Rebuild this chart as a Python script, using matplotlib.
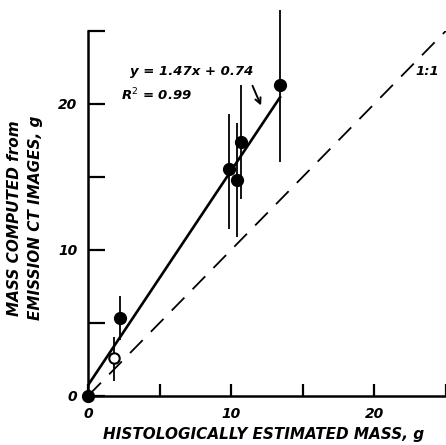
import matplotlib.pyplot as plt

# histologically estimated mass (x) vs mass from emission CT (y), g
x_filled = [0.0, 2.2, 9.8, 10.4, 10.7, 13.4]
y_filled = [0.0, 5.3, 15.5, 14.8, 17.4, 21.3]
err_lo = [0.0, 1.5, 4.1, 3.95, 3.95, 5.3]
err_hi = [0.0, 1.5, 3.8, 3.9, 3.9, 5.1]

x_open = [1.8]
y_open = [2.6]
open_lo = [1.6]
open_hi = [1.4]

slope, intercept = 1.47, 0.74
fit_x = [0.0, 13.4]
one_x = [0.0, 25.0]

fnt = dict(fontweight='bold', fontstyle='italic', family='DejaVu Sans')

fig = plt.figure(figsize=(4.46, 4.45), dpi=100)
ax = fig.add_axes([0.198, 0.111, 0.802, 0.82])

ax.plot(one_x, one_x, color='black', lw=1.3, dashes=(10, 6.5), clip_on=True)
ax.plot(fit_x, [slope * v + intercept for v in fit_x], color='black', lw=1.9)

ax.errorbar(x_filled, y_filled, yerr=[err_lo, err_hi], fmt='o', color='black',
            ms=8.5, elinewidth=1.3, capsize=0, clip_on=False, zorder=3)
ax.errorbar(x_open, y_open, yerr=[open_lo, open_hi], fmt='o', color='black',
            mfc='white', mec='black', mew=1.5, ms=7.5, elinewidth=1.3,
            capsize=0, clip_on=False, zorder=3)

ax.set_xlim(0, 24.72)
ax.set_ylim(0, 25)
ax.spines['top'].set_visible(False)
ax.spines['right'].set_visible(False)
for s in ('left', 'bottom'):
    ax.spines[s].set_linewidth(1.8)

ax.set_xticks([0, 5, 10, 15, 20, 25])
ax.set_xticklabels(['0', '', '10', '', '20', ''], **fnt, fontsize=10)
ax.set_yticks([0, 5, 10, 15, 20, 25])
ax.set_yticklabels(['0', '', '10', '', '20', ''], **fnt, fontsize=10)
ax.tick_params(axis='x', direction='in', length=9, width=1.6, pad=8)
ax.tick_params(axis='y', direction='in', length=12, width=1.6, pad=8)

fig.text(0.59, 0.024, 'HISTOLOGICALLY ESTIMATED MASS, g', fontsize=11,
         ha='center', va='center', **fnt)
fig.text(0.056, 0.51, 'MASS COMPUTED from\nEMISSION CT IMAGES, g', fontsize=11,
         ha='center', va='center', rotation=90, linespacing=1.5, **fnt)

ax.text(2.9, 22.2, 'y = 1.47x + 0.74', fontsize=9.5, va='center', **fnt)
ax.text(2.3, 20.6, r'R$^2$ = 0.99', fontsize=9.5, va='center', **fnt)
ax.text(24.5, 22.2, '1:1', fontsize=9.5, va='center', ha='right', **fnt)
ax.annotate('', xy=(12.15, 19.7), xytext=(11.4, 21.4),
            arrowprops=dict(arrowstyle='->', color='black', lw=1.4))

fig.savefig('out.png', dpi=100)
